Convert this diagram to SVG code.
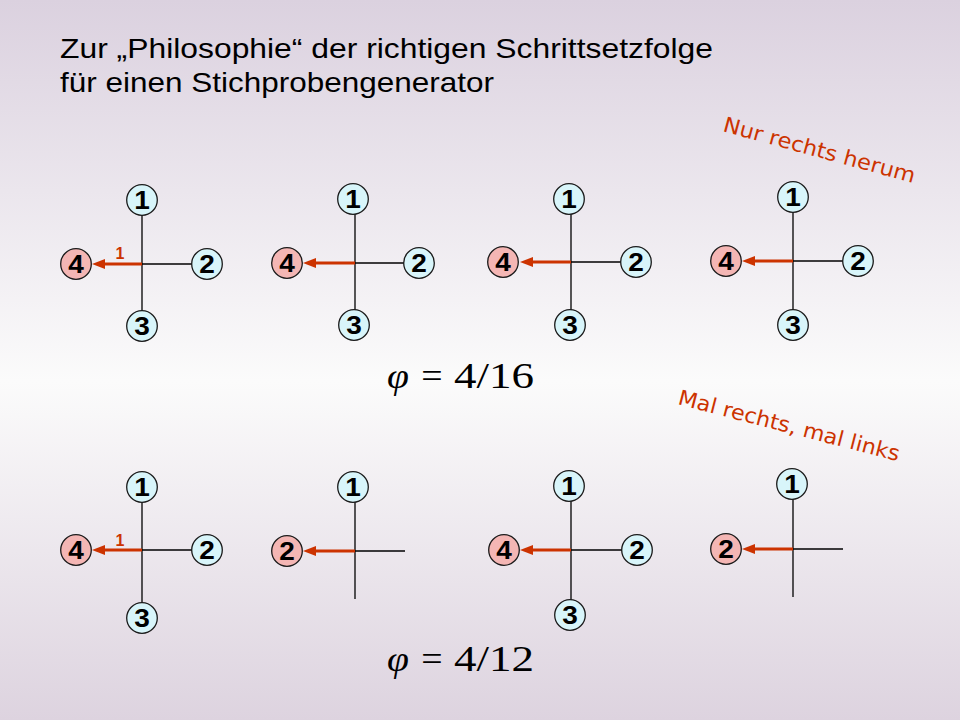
<svg xmlns="http://www.w3.org/2000/svg" width="960" height="720" viewBox="0 0 960 720">
<defs>
<linearGradient id="bg" x1="0" y1="0" x2="0" y2="1">
<stop offset="0" stop-color="#dbd1df"/>
<stop offset="0.53" stop-color="#fbfbfb"/>
<stop offset="1" stop-color="#ddd3df"/>
</linearGradient>
<marker id="ah" viewBox="0 0 13 10" markerWidth="13" markerHeight="10" refX="3" refY="5" orient="auto" markerUnits="userSpaceOnUse">
<path d="M0,0 L13,5 L0,10 z" fill="#cc3300"/>
</marker>
</defs>
<style>
.nb{fill:#d8f5fa;stroke:#1a1a1a;stroke-width:1.3}
.nr{fill:#f4b6b4;stroke:#1a1a1a;stroke-width:1.3}
.num{font-family:"Liberation Sans",Arial,sans-serif;font-weight:bold;font-size:25px;fill:#000;text-anchor:middle}
.ln{stroke:#000;stroke-width:1.3;fill:none}
.ar{stroke:#cc3300;stroke-width:3;fill:none;marker-end:url(#ah)}
.lab{font-family:"Liberation Sans",Arial,sans-serif;font-weight:bold;font-size:16px;fill:#cc3300;text-anchor:middle}
.title{font-family:"Liberation Sans",Arial,sans-serif;font-size:28px;fill:#000}
.hand{font-family:"DejaVu Sans","Open Sans",sans-serif;font-size:21px;fill:#cc3300}
.frm{font-family:"Liberation Serif","Times New Roman",serif;font-size:36px;fill:#000}
</style>
<rect x="0" y="0" width="960" height="720" fill="url(#bg)"/>

<g id="title">
<text class="title" x="60" y="58" textLength="653" lengthAdjust="spacingAndGlyphs">Zur „Philosophie“ der richtigen Schrittsetzfolge</text>
<text class="title" x="60" y="92" textLength="434" lengthAdjust="spacingAndGlyphs">für einen Stichprobengenerator</text>
</g>

<g id="note-top">
<text class="hand" x="722" y="131" transform="rotate(15.2 722 131)" textLength="198" lengthAdjust="spacingAndGlyphs">Nur rechts herum</text>
</g>
<g id="note-bottom">
<text class="hand" x="677" y="404" transform="rotate(14.5 677 404)" textLength="228" lengthAdjust="spacingAndGlyphs">Mal rechts, mal links</text>
</g>

<g id="formula-top">
<text class="frm" font-style="italic" transform="translate(387,388) scale(1.1,1)">φ</text>
<text class="frm" text-anchor="middle" transform="translate(432,388) scale(1.05,1)">=</text>
<text class="frm" x="454" y="388" textLength="80" lengthAdjust="spacingAndGlyphs">4/16</text>
</g>
<g id="formula-bottom">
<text class="frm" font-style="italic" transform="translate(387,671) scale(1.1,1)">φ</text>
<text class="frm" text-anchor="middle" transform="translate(432,671) scale(1.05,1)">=</text>
<text class="frm" x="454" y="671" textLength="80" lengthAdjust="spacingAndGlyphs">4/12</text>
</g>

<g id="connectors">
<!-- D1 -->
<line class="ln" x1="142" y1="215" x2="142" y2="311"/>
<line class="ln" x1="142" y1="264" x2="192" y2="264"/>
<line class="ar" x1="142" y1="264" x2="102" y2="264"/>
<!-- D2 -->
<line class="ln" x1="355" y1="214" x2="355" y2="310"/>
<line class="ln" x1="355" y1="263" x2="404" y2="263"/>
<line class="ar" x1="355" y1="263" x2="313" y2="263"/>
<!-- D3 -->
<line class="ln" x1="571" y1="214" x2="571" y2="310"/>
<line class="ln" x1="571" y1="262" x2="621" y2="262"/>
<line class="ar" x1="571" y1="262" x2="530" y2="262"/>
<!-- D4 -->
<line class="ln" x1="793" y1="212" x2="793" y2="310"/>
<line class="ln" x1="793" y1="261" x2="843" y2="261"/>
<line class="ar" x1="793" y1="261" x2="752" y2="261"/>
<!-- D5 -->
<line class="ln" x1="142" y1="502" x2="142" y2="603"/>
<line class="ln" x1="142" y1="550" x2="192" y2="550"/>
<line class="ar" x1="142" y1="550" x2="102" y2="550"/>
<!-- D6 -->
<line class="ln" x1="355" y1="502" x2="355" y2="599"/>
<line class="ln" x1="355" y1="551" x2="405" y2="551"/>
<line class="ar" x1="355" y1="551" x2="313" y2="551"/>
<!-- D7 -->
<line class="ln" x1="571" y1="501" x2="571" y2="600"/>
<line class="ln" x1="571" y1="550" x2="622" y2="550"/>
<line class="ar" x1="571" y1="550" x2="530" y2="550"/>
<!-- D8 -->
<line class="ln" x1="793" y1="499" x2="793" y2="597"/>
<line class="ln" x1="793" y1="549" x2="843" y2="549"/>
<line class="ar" x1="793" y1="549" x2="752" y2="549"/>
<text class="lab" x="120" y="259">1</text>
<text class="lab" x="120" y="546">1</text>
</g>

<!-- Diagram 1 -->
<g id="d1-n1" transform="translate(142,200)"><circle r="15.3" class="nb"/><text class="num" y="9" transform="scale(1.12,1)">1</text></g>
<g id="d1-n2" transform="translate(207,264)"><circle r="15.3" class="nb"/><text class="num" y="9" transform="scale(1.12,1)">2</text></g>
<g id="d1-n3" transform="translate(142,326)"><circle r="15.3" class="nb"/><text class="num" y="9" transform="scale(1.12,1)">3</text></g>
<g id="d1-n4" transform="translate(76,264)"><circle r="15.3" class="nr"/><text class="num" y="9" transform="scale(1.12,1)">4</text></g>
<!-- Diagram 2 -->
<g id="d2-n1" transform="translate(353,199)"><circle r="15.3" class="nb"/><text class="num" y="9" transform="scale(1.12,1)">1</text></g>
<g id="d2-n2" transform="translate(419,263)"><circle r="15.3" class="nb"/><text class="num" y="9" transform="scale(1.12,1)">2</text></g>
<g id="d2-n3" transform="translate(354,325)"><circle r="15.3" class="nb"/><text class="num" y="9" transform="scale(1.12,1)">3</text></g>
<g id="d2-n4" transform="translate(287,263)"><circle r="15.3" class="nr"/><text class="num" y="9" transform="scale(1.12,1)">4</text></g>
<!-- Diagram 3 -->
<g id="d3-n1" transform="translate(569,199)"><circle r="15.3" class="nb"/><text class="num" y="9" transform="scale(1.12,1)">1</text></g>
<g id="d3-n2" transform="translate(636,262)"><circle r="15.3" class="nb"/><text class="num" y="9" transform="scale(1.12,1)">2</text></g>
<g id="d3-n3" transform="translate(570,325)"><circle r="15.3" class="nb"/><text class="num" y="9" transform="scale(1.12,1)">3</text></g>
<g id="d3-n4" transform="translate(503,262)"><circle r="15.3" class="nr"/><text class="num" y="9" transform="scale(1.12,1)">4</text></g>
<!-- Diagram 4 -->
<g id="d4-n1" transform="translate(793,197)"><circle r="15.3" class="nb"/><text class="num" y="9" transform="scale(1.12,1)">1</text></g>
<g id="d4-n2" transform="translate(858,261)"><circle r="15.3" class="nb"/><text class="num" y="9" transform="scale(1.12,1)">2</text></g>
<g id="d4-n3" transform="translate(793,325)"><circle r="15.3" class="nb"/><text class="num" y="9" transform="scale(1.12,1)">3</text></g>
<g id="d4-n4" transform="translate(726,261)"><circle r="15.3" class="nr"/><text class="num" y="9" transform="scale(1.12,1)">4</text></g>
<!-- Diagram 5 -->
<g id="d5-n1" transform="translate(142,487)"><circle r="15.3" class="nb"/><text class="num" y="9" transform="scale(1.12,1)">1</text></g>
<g id="d5-n2" transform="translate(207,550)"><circle r="15.3" class="nb"/><text class="num" y="9" transform="scale(1.12,1)">2</text></g>
<g id="d5-n3" transform="translate(142,618)"><circle r="15.3" class="nb"/><text class="num" y="9" transform="scale(1.12,1)">3</text></g>
<g id="d5-n4" transform="translate(76,550)"><circle r="15.3" class="nr"/><text class="num" y="9" transform="scale(1.12,1)">4</text></g>
<!-- Diagram 6 -->
<g id="d6-n1" transform="translate(353,487)"><circle r="15.3" class="nb"/><text class="num" y="9" transform="scale(1.12,1)">1</text></g>
<g id="d6-n2" transform="translate(287,551)"><circle r="15.3" class="nr"/><text class="num" y="9" transform="scale(1.12,1)">2</text></g>
<!-- Diagram 7 -->
<g id="d7-n1" transform="translate(569,486)"><circle r="15.3" class="nb"/><text class="num" y="9" transform="scale(1.12,1)">1</text></g>
<g id="d7-n2" transform="translate(637,550)"><circle r="15.3" class="nb"/><text class="num" y="9" transform="scale(1.12,1)">2</text></g>
<g id="d7-n3" transform="translate(570,615)"><circle r="15.3" class="nb"/><text class="num" y="9" transform="scale(1.12,1)">3</text></g>
<g id="d7-n4" transform="translate(504,550)"><circle r="15.3" class="nr"/><text class="num" y="9" transform="scale(1.12,1)">4</text></g>
<!-- Diagram 8 -->
<g id="d8-n1" transform="translate(792,484)"><circle r="15.3" class="nb"/><text class="num" y="9" transform="scale(1.12,1)">1</text></g>
<g id="d8-n2" transform="translate(726,549)"><circle r="15.3" class="nr"/><text class="num" y="9" transform="scale(1.12,1)">2</text></g>
</svg>
